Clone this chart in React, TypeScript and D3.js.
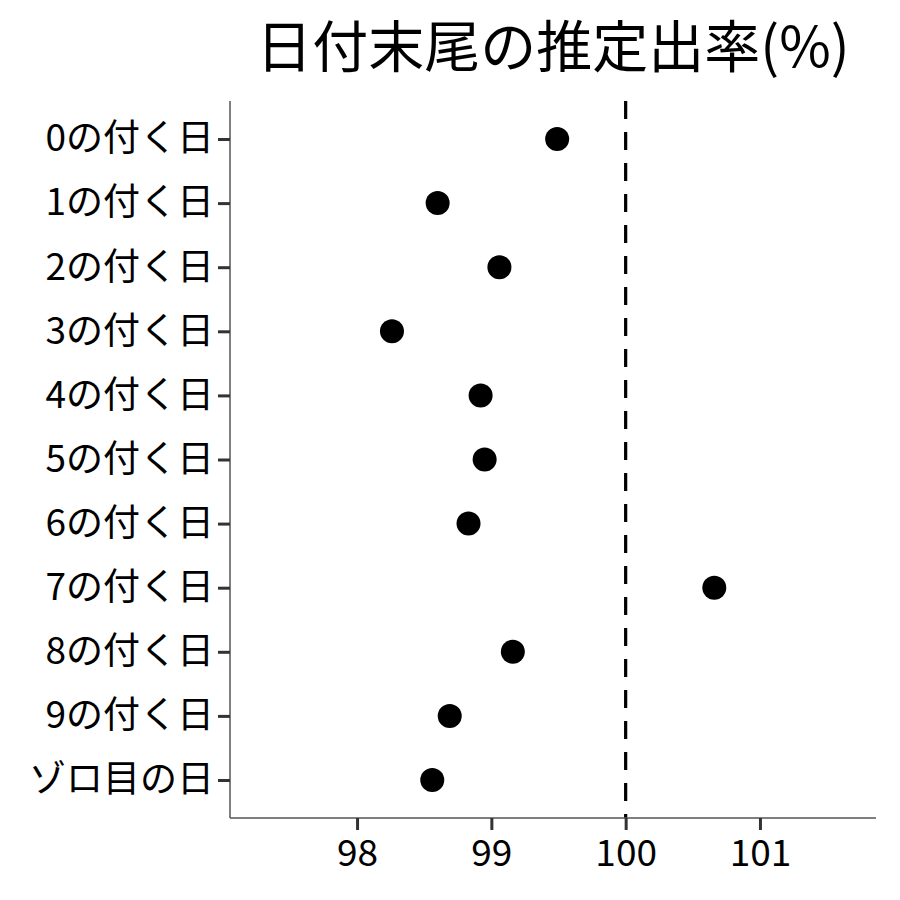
import React, { useEffect, useRef } from 'react';
import * as d3 from 'd3';

const categories = ['0の付く日', '1の付く日', '2の付く日', '3の付く日', '4の付く日', '5の付く日', '6の付く日', '7の付く日', '8の付く日', '9の付く日', 'ゾロ目の日'];
const rates = [99.49, 98.6, 99.06, 98.26, 98.92, 98.95, 98.83, 100.66, 99.16, 98.69, 98.56];
const xTicks = [98, 99, 100, 101];
const refValue = 100;
const title = '日付末尾の推定出率(%)';

const App = () => {
  const ref = useRef<SVGSVGElement>(null);

  useEffect(() => {
    const svg = d3.select(ref.current);
    svg.selectAll('*').remove();

    const font = '"Noto Sans CJK JP", "Noto Sans", sans-serif';
    const left = 230, right = 876, top = 101, bottom = 818;

    const x = d3.scaleLinear().domain([97.054, 101.864]).range([left, right]);
    const y = d3.scalePoint<string>().domain(categories).range([top, bottom]).padding(0.593);

    // reference line
    svg.append('line')
      .attr('x1', x(refValue)).attr('x2', x(refValue))
      .attr('y1', top).attr('y2', bottom)
      .attr('stroke', '#000').attr('stroke-width', 3.2)
      .attr('stroke-dasharray', '18,13');

    // points
    svg.selectAll('.pt')
      .data(categories)
      .enter()
      .append('circle')
        .attr('cx', (d, i) => x(rates[i]))
        .attr('cy', d => y(d)!)
        .attr('r', 12)
        .attr('fill', '#000');

    // axes
    const xAxis = svg.append('g')
      .attr('transform', `translate(0,${bottom})`)
      .call(d3.axisBottom(x).tickValues(xTicks).tickSize(12).tickPadding(10).tickFormat(d3.format('d')));
    xAxis.select('.domain').attr('stroke', '#555').attr('stroke-width', 1.5)
      .attr('d', `M${left},0H${right}`);
    xAxis.selectAll('.tick line').attr('stroke', '#333').attr('stroke-width', 3);
    xAxis.selectAll('.tick text').attr('fill', '#000')
      .style('font-family', font).style('font-size', '37px');

    const yAxis = svg.append('g')
      .attr('transform', `translate(${left},0)`)
      .call(d3.axisLeft(y).tickSize(12).tickPadding(4));
    yAxis.select('.domain').attr('stroke', '#555').attr('stroke-width', 1.5)
      .attr('d', `M0,${top}V${bottom}`);
    yAxis.selectAll('.tick line').attr('stroke', '#333').attr('stroke-width', 3);
    yAxis.selectAll('.tick text').attr('fill', '#000')
      .style('font-family', font).style('font-size', '37px');

    // title
    svg.append('text')
      .attr('x', (left + right) / 2)
      .attr('y', 67)
      .attr('text-anchor', 'middle')
      .style('font-family', font)
      .style('font-size', '56px')
      .attr('fill', '#000')
      .text(title);
  }, []);

  return (
    <svg ref={ref} width={900} height={900} style={{ display: 'block', position: 'absolute', left: 0, top: 0, background: '#fff' }} />
  );
};

export default App;
